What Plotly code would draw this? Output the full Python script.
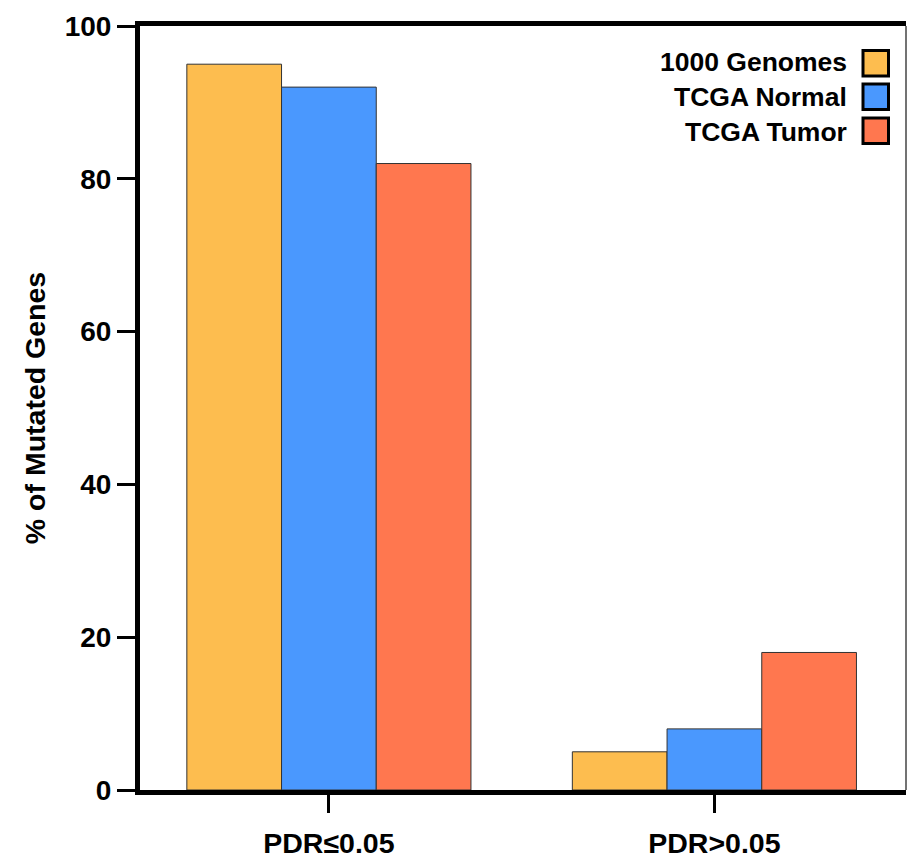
import plotly.graph_objects as go

categories = ["PDR≤0.05", "PDR>0.05"]
series_names = ["1000 Genomes", "TCGA Normal", "TCGA Tumor"]
genomes_1000 = [95, 5]
tcga_normal = [92, 8]
tcga_tumor = [82, 18]
y_ticks = [0, 20, 40, 60, 80, 100]

colors = ["#FDBD4F", "#4A98FE", "#FF774F"]
values = [genomes_1000, tcga_normal, tcga_tumor]

FONT = "Liberation Sans, Arial, Helvetica, sans-serif"

fig = go.Figure()
for name, vals, col in zip(series_names, values, colors):
    fig.add_trace(go.Bar(
        x=categories, y=vals, name=name,
        marker=dict(color=col, line=dict(color="#333333", width=1)),
        showlegend=False,
    ))

W, H = 908, 858
ml, mr, mt, mb = 140, 2, 26, 68
pw, ph = W - ml - mr, H - mt - mb

def px_x(x):
    return (x - ml) / pw

def px_y(y):
    return (H - mb - y) / ph

# legend (labels on the left, swatches on the right)
text_centers = [62, 97, 132]
box_tops = [50.5, 84, 118]
annotations = []
shapes = []
for name, col, ty, bt in zip(series_names, colors, text_centers, box_tops):
    annotations.append(dict(
        x=px_x(849), y=px_y(ty), xref="paper", yref="paper",
        text=name, showarrow=False, xanchor="right", yanchor="middle",
        font=dict(family=FONT, size=26.5, color="black", weight="bold"),
    ))
    shapes.append(dict(
        type="rect", xref="paper", yref="paper",
        x0=px_x(863), x1=px_x(888.5), y0=px_y(bt), y1=px_y(bt + 25.5),
        fillcolor=col, line=dict(color="black", width=3),
    ))

# thin right border
shapes.append(dict(type="line", xref="paper", yref="paper",
                   x0=1, x1=1, y0=0, y1=1,
                   line=dict(color="#444444", width=1.5)))

fig.update_layout(
    width=W, height=H,
    margin=dict(l=ml, r=mr, t=mt, b=mb, autoexpand=False),
    plot_bgcolor="white", paper_bgcolor="white",
    barmode="group", bargap=0.263, bargroupgap=0,
    font=dict(family=FONT, color="black"),
    annotations=annotations, shapes=shapes,
    xaxis=dict(
        range=[-0.49, 1.497], automargin=False,
        showline=True, linewidth=5, linecolor="black", mirror=True,
        ticks="outside", ticklen=18, tickwidth=2.5, tickcolor="black",
        ticklabelstandoff=6,
        tickfont=dict(family=FONT, size=28.5, color="black", weight="bold"),
        showgrid=False, zeroline=False,
    ),
    yaxis=dict(
        range=[0, 100], automargin=False,
        tickvals=y_ticks, ticktext=[str(v) for v in y_ticks],
        showline=True, linewidth=5, linecolor="black",
        ticks="outside", ticklen=18, tickwidth=3, tickcolor="black",
        tickfont=dict(family=FONT, size=28, color="black", weight="bold"),
        title=dict(text="% of Mutated Genes", standoff=12,
                   font=dict(family=FONT, size=28.5, color="black", weight="bold")),
        showgrid=False, zeroline=False,
    ),
)

fig.write_html(
    "out.html",
    config={"displayModeBar": False},
    post_script="document.body.style.margin='0';document.body.style.overflow='hidden';",
)
